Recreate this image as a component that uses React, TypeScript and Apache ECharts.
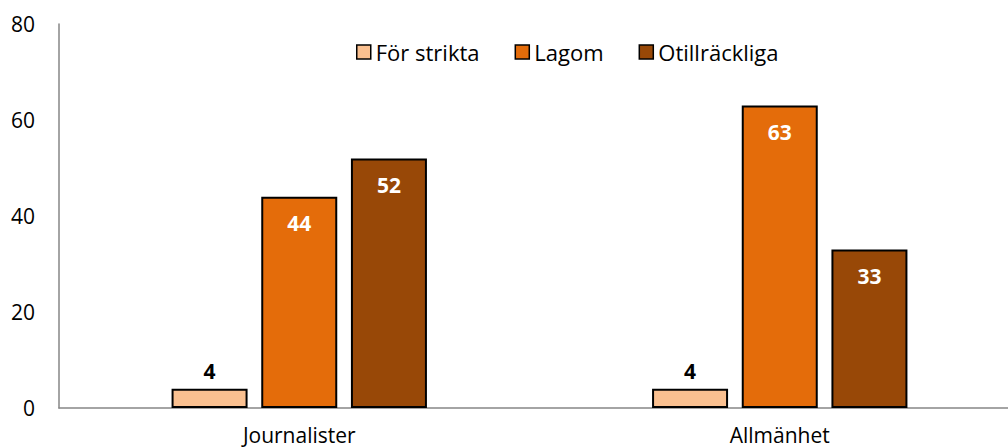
import React, { useEffect, useRef } from "react";
import * as echarts from "echarts";

const categories = ["Journalister", "Allmänhet"];
const seriesNames = ["För strikta", "Lagom", "Otillräckliga"];
const forStrikta = [4, 4];
const lagom = [44, 63];
const otillrackliga = [52, 33];
const colors = ["#FAC090", "#E46C0A", "#984807"];
const yTicks = { min: 0, max: 80, interval: 20 };

const FONT = "'Open Sans', 'Noto Sans', sans-serif";

export default function App() {
  const ref = useRef<HTMLDivElement>(null);
  useEffect(() => {
    if (!ref.current) return;
    const chart = echarts.init(ref.current, undefined, { renderer: "svg" });
    const values = [forStrikta, lagom, otillrackliga];
    const mkSeries = (i: number) => ({
      name: seriesNames[i],
      type: "bar",
      barWidth: 76,
      barGap: "18%",
      itemStyle: { color: colors[i], borderColor: "#000", borderWidth: 2 },
      data: values[i].map((v) => {
        const small = v < 10;
        return {
          value: v,
          label: {
            show: true,
            position: small ? "top" : "insideTop",
            distance: small ? 7 : 16,
            color: small ? "#000" : "#fff",
            fontWeight: "bold",
            fontSize: 21,
            fontFamily: FONT,
          },
        };
      }),
    });
    chart.setOption({
      animation: false,
      textStyle: { fontFamily: FONT },
      legend: {
        left: 351,
        top: 36,
        itemWidth: 14,
        itemHeight: 14,
        itemGap: 35,
        icon: "rect",
        textStyle: { fontSize: 22, color: "#000", fontFamily: FONT, padding: [0, 0, 0, 0] },
        data: seriesNames.map((n, i) => ({
          name: n,
          itemStyle: { color: colors[i], borderColor: "#000", borderWidth: 1.5 },
        })),
      },
      grid: { left: 59, top: 24, width: 961, height: 384, containLabel: false },
      xAxis: {
        type: "category",
        data: categories,
        axisLine: { lineStyle: { color: "#868686", width: 1.5 } },
        axisTick: { show: false },
        axisLabel: { color: "#000", fontSize: 21, margin: 16, fontFamily: FONT },
      },
      yAxis: {
        type: "value",
        min: yTicks.min,
        max: yTicks.max,
        interval: yTicks.interval,
        axisLine: { show: true, lineStyle: { color: "#868686", width: 1.5 } },
        axisTick: { show: false },
        splitLine: { show: false },
        axisLabel: { color: "#000", fontSize: 21, margin: 24, fontFamily: FONT },
      },
      series: [mkSeries(0), mkSeries(1), mkSeries(2)],
    });
    return () => chart.dispose();
  }, []);
  return (
    <div style={{ position: "fixed", left: 0, top: 0, width: 1008, height: 447, overflow: "hidden", background: "#fff" }}>
      <div ref={ref} style={{ width: 1030, height: 447 }} />
    </div>
  );
}
